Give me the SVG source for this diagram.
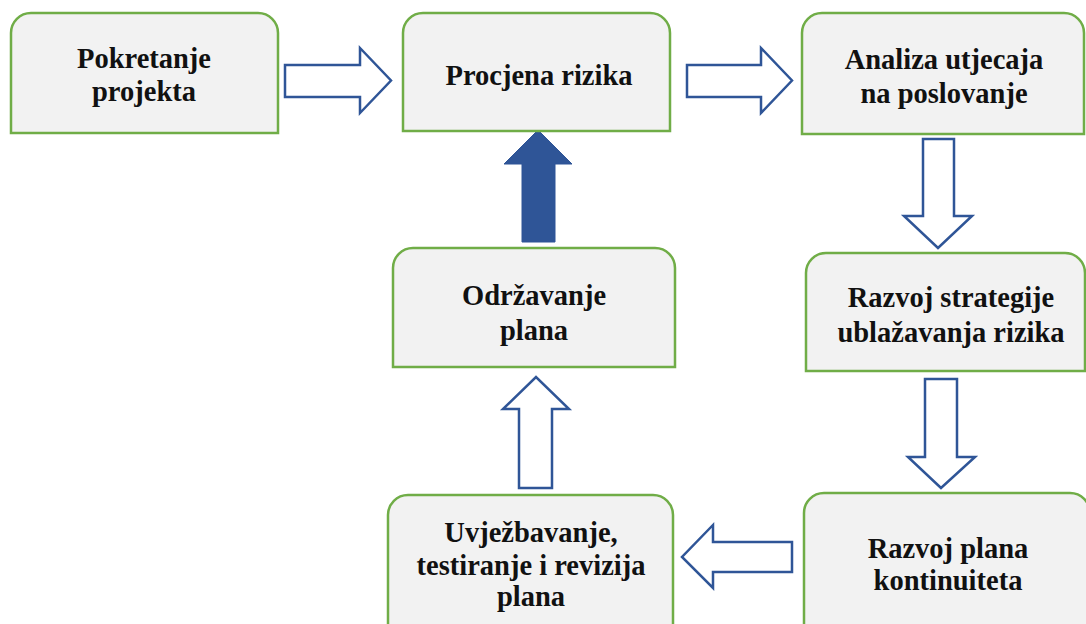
<svg xmlns="http://www.w3.org/2000/svg" width="1086" height="624" viewBox="0 0 1086 624">
<style>
.box{fill:#f2f2f2;stroke:#70ad47;stroke-width:2.5}
.arr{fill:#ffffff;stroke:#2f5597;stroke-width:2.5;stroke-linejoin:miter}
.arrf{fill:#2f5597;stroke:#2f5597;stroke-width:1}
text{font-family:'Liberation Serif','DejaVu Serif',serif;font-weight:bold;font-size:28.5px;fill:#111;text-anchor:middle}
</style>
<rect width="1086" height="624" fill="#ffffff"/>
<g id="connectors">
<polygon class="arr" points="285,65 360,65 360,48 391,80.5 360,113 360,97 285,97"/>
<polygon class="arr" points="687,65 761,65 761,48 792,80.5 761,113 761,97 687,97"/>
<polygon class="arr" points="923,139 954,139 954,216 972,216 938,248 904,216 923,216"/>
<polygon class="arr" points="925,379 957,379 957,457 975,457 941,488 908,457 925,457"/>
<polygon class="arr" points="792,542 713,542 713,525 682,557 713,588 713,572 792,572"/>
<polygon class="arr" points="519,488 552,488 552,409 569,409 536,377 503,409 519,409"/>
<polygon class="arrf" points="522,242 555,242 555,164 572,164 538,130 504,164 522,164"/>
</g>
<g id="n1"><path class="box" d="M11,133 V33 A20,20 0 0 1 31,13 H258 A20,20 0 0 1 278,33 V133 Z"/>
<text font-family="Liberation Serif, serif" x="144" y="68">Pokretanje</text><text font-family="Liberation Serif, serif" x="144" y="101">projekta</text></g>
<g id="n2"><path class="box" d="M403,131 V33 A20,20 0 0 1 423,13 H650 A20,20 0 0 1 670,33 V131 Z"/>
<text font-family="Liberation Serif, serif" x="539" y="85">Procjena rizika</text></g>
<g id="n3"><path class="box" d="M802,134 V33 A20,20 0 0 1 822,13 H1064 A20,20 0 0 1 1084,33 V134 Z"/>
<text font-family="Liberation Serif, serif" x="944" y="69">Analiza utjecaja</text><text font-family="Liberation Serif, serif" x="944" y="103">na poslovanje</text></g>
<g id="n4"><path class="box" d="M393,367 V268 A20,20 0 0 1 413,248 H655 A20,20 0 0 1 675,268 V367 Z"/>
<text font-family="Liberation Serif, serif" x="534" y="305">Održavanje</text><text font-family="Liberation Serif, serif" x="534" y="340">plana</text></g>
<g id="n5"><path class="box" d="M806,371 V273 A20,20 0 0 1 826,253 H1065 A20,20 0 0 1 1085,273 V371 Z"/>
<text font-family="Liberation Serif, serif" x="951" y="307">Razvoj strategije</text><text font-family="Liberation Serif, serif" x="951" y="342">ublažavanja rizika</text></g>
<g id="n6"><path class="box" d="M804,640 V513 A20,20 0 0 1 824,493 H1070 A20,20 0 0 1 1090,513 V640 Z"/>
<text font-family="Liberation Serif, serif" x="948" y="558">Razvoj plana</text><text font-family="Liberation Serif, serif" x="948" y="590">kontinuiteta</text></g>
<g id="n7"><path class="box" d="M388,640 V515 A20,20 0 0 1 408,495 H653 A20,20 0 0 1 673,515 V640 Z"/>
<text font-family="Liberation Serif, serif" x="531" y="542">Uvježbavanje,</text><text font-family="Liberation Serif, serif" x="531" y="575">testiranje i revizija</text><text font-family="Liberation Serif, serif" x="531" y="606">plana</text></g>
</svg>
